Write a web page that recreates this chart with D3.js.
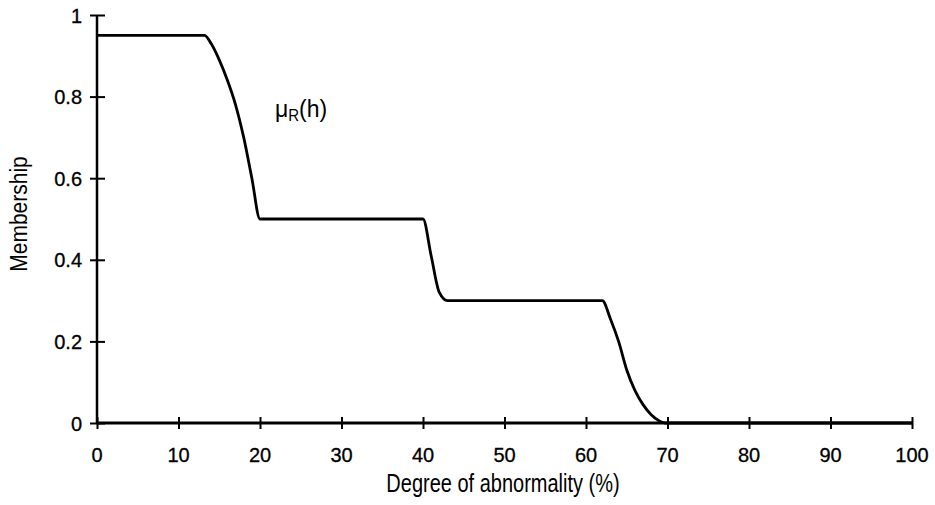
<!DOCTYPE html>
<html>
<head>
<meta charset="utf-8">
<script src="https://cdn.jsdelivr.net/npm/d3@7"></script>
<style>
  body { margin: 0; background: #fff; }
  svg { display: block; }
  text { font-family: "Liberation Sans", Arial, sans-serif; fill: #000; }
</style>
</head>
<body>
<div id="vis"></div>
<script>
// membership curve
var degree = [0, 13.2, 14, 15, 16, 17, 18, 19, 20, 40, 41, 42, 43, 62, 63, 64, 65, 66, 67, 68, 69, 69.7, 100];
var membership = [0.95, 0.95, 0.93, 0.89, 0.84, 0.78, 0.70, 0.60, 0.50, 0.50, 0.41, 0.32, 0.30, 0.30, 0.255, 0.20, 0.13, 0.08, 0.045, 0.02, 0.005, 0, 0];
var xTicks = [0, 10, 20, 30, 40, 50, 60, 70, 80, 90, 100];
var yTicks = [0, 0.2, 0.4, 0.6, 0.8, 1];

var width = 935;
var height = 505;

var x = d3.scaleLinear().domain([0, 100]).range([97, 912]);
var y = d3.scaleLinear().domain([0, 1]).range([423, 15]);

var svg = d3.select('#vis').append('svg')
  .attr('width', width)
  .attr('height', height);

// the scan is a bit taller than wide, so text gets a vertical stretch
function stretched(sel, tx, ty, k, rot) {
  sel.attr('transform', function (d) {
    return 'translate(' + tx(d) + ',' + ty(d) + ')' + (rot ? ' rotate(' + rot + ')' : '') + ' scale(1,' + k + ')';
  });
}

// x axis ticks
var xAxis = svg.append('g')
  .attr('transform', 'translate(0,' + (y(0) + 6) + ')')
  .call(d3.axisBottom(x).tickValues(xTicks).tickSizeInner(-12).tickSizeOuter(0).tickFormat(''));
xAxis.select('.domain').remove();
xAxis.selectAll('.tick line').attr('stroke', '#000').attr('stroke-width', 2);
svg.append('line')
  .attr('x1', x(0)).attr('x2', x(100))
  .attr('y1', y(0)).attr('y2', y(0))
  .attr('stroke', '#000').attr('stroke-width', 3);

svg.append('g').selectAll('text')
  .data(xTicks)
  .join('text')
  .attr('text-anchor', 'middle')
  .attr('font-size', 20)
  .attr('stroke', '#000').attr('stroke-width', 0.3)
  .text(function (d) { return d; })
  .call(stretched, function (d) { return x(d); }, function () { return 462; }, 1.05);

// y axis ticks
var yAxis = svg.append('g')
  .attr('transform', 'translate(' + (x(0) + 8) + ',0)')
  .call(d3.axisLeft(y).tickValues(yTicks).tickSizeInner(15).tickSizeOuter(0).tickFormat(''));
yAxis.select('.domain').remove();
yAxis.selectAll('.tick line').attr('stroke', '#000').attr('stroke-width', 2);
svg.append('line')
  .attr('x1', x(0)).attr('x2', x(0))
  .attr('y1', y(1)).attr('y2', y(0))
  .attr('stroke', '#000').attr('stroke-width', 2.5);

svg.append('g').selectAll('text')
  .data(yTicks)
  .join('text')
  .attr('text-anchor', 'end')
  .attr('font-size', 20)
  .attr('stroke', '#000').attr('stroke-width', 0.3)
  .text(function (d) { return d === 0 || d === 1 ? d : d3.format('.1f')(d); })
  .call(stretched, function () { return 82; }, function (d) { return y(d) + 7.5; }, 1.05);

// the curve
var pts = degree.map(function (d, i) { return [d, membership[i]]; });
svg.append('path')
  .datum(pts)
  .attr('fill', 'none')
  .attr('stroke', '#000')
  .attr('stroke-width', 2.8)
  .attr('stroke-linejoin', 'round')
  .attr('d', d3.line()
    .x(function (d) { return x(d[0]); })
    .y(function (d) { return y(d[1]); })
    .curve(d3.curveMonotoneX));

// curve label
var lbl = svg.append('text')
  .attr('font-size', 23)
  .attr('transform', 'translate(275,117) scale(1,1.05)');
lbl.append('tspan').text('μ');
lbl.append('tspan').attr('font-size', 15).attr('dy', 4).text('R');
lbl.append('tspan').attr('dy', -4).text('(h)');

// axis titles
svg.append('text')
  .datum(0)
  .attr('text-anchor', 'middle')
  .attr('font-size', 20)
  .text('Degree of abnormality (%)')
  .call(stretched, function () { return 503; }, function () { return 492; }, 1.3);

svg.append('text')
  .datum(0)
  .attr('text-anchor', 'middle')
  .attr('font-size', 21)
  .text('Membership')
  .call(stretched, function () { return 27; }, function () { return 214; }, 1.15, -90);
</script>
</body>
</html>
